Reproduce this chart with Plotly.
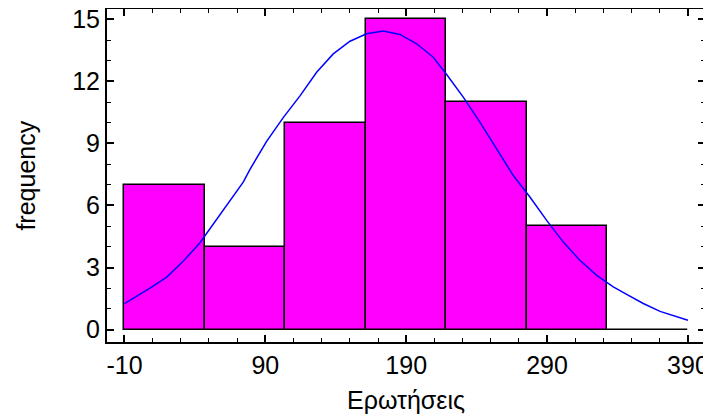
import plotly.graph_objects as go

# Histogram data
bin_start = -10
bin_width = 400 / 7
counts = [7, 4, 10, 15, 11, 5, 0]

# Fitted normal curve
curve_x = [-10, 8.1, 20.0, 31.7, 43.6, 48.3, 55.4, 62.5, 74.3, 79.1, 90.9, 102.7,
           114.6, 126.4, 138.2, 150.1, 161.9, 173.7, 185.6, 197.4, 209.2, 218.7,
           230.5, 242.3, 254.2, 266.0, 277.8, 289.7, 301.5, 313.3, 325.2, 337.0,
           346.5, 358.3, 370.2, 382.0, 390.0]
curve_y = [1.26, 2.0, 2.54, 3.3, 4.2, 4.64, 5.3, 6.0, 7.13, 7.75, 9.1, 10.25,
           11.3, 12.44, 13.33, 13.94, 14.30, 14.43, 14.27, 13.82, 13.17, 12.33,
           11.24, 10.03, 8.74, 7.45, 6.41, 5.28, 4.23, 3.35, 2.62, 2.06,
           1.70, 1.26, 0.88, 0.61, 0.45]

x_tickvals = [-10, 90, 190, 290, 390]
y_tickvals = [0, 3, 6, 9, 12, 15]
x_title = "Ερωτήσεις"
y_title = "frequency"

centers = [bin_start + bin_width * (i + 0.5) for i in range(len(counts))]

fig = go.Figure()
fig.add_trace(go.Bar(
    x=centers, y=counts, width=[bin_width] * len(counts),
    marker=dict(color="#FF00FF", line=dict(color="black", width=1.5)),
    hoverinfo="skip",
))
fig.add_trace(go.Scatter(
    x=curve_x, y=curve_y, mode="lines",
    line=dict(color="#0000FF", width=1.5),
))

# The page body has an 8px default margin; the figure is sized to fit inside it.
font = "Liberation Sans, Arial, sans-serif"
fig.update_layout(
    width=703, height=411,
    margin=dict(l=99, r=6, t=1, b=77),
    paper_bgcolor="white", plot_bgcolor="white",
    showlegend=False, bargap=0,
    font=dict(family=font, size=25, color="black"),
    annotations=[
        dict(text=x_title, xref="paper", yref="paper", x=0.5, y=-0.174,
             xanchor="center", yanchor="middle", showarrow=False,
             font=dict(size=25)),
        dict(text=y_title, xref="paper", yref="paper", x=-0.137, y=0.5,
             xanchor="center", yanchor="middle", showarrow=False, textangle=-90,
             font=dict(size=25)),
    ],
)
fig.update_xaxes(
    range=[-22.4, 402.1], tickvals=x_tickvals, ticktext=[str(v) for v in x_tickvals],
    ticks="inside", ticklen=7, tickwidth=1.5, tickcolor="black",
    minor=dict(dtick=20, tick0=-10, ticks="inside", ticklen=4, tickwidth=1.2, tickcolor="black"),
    showline=True, linecolor="black", linewidth=2, mirror="allticks",
    showgrid=False, zeroline=False, automargin=False,
    ticklabeloverflow="allow",
    tickfont=dict(size=25),
)
fig.update_yaxes(
    range=[-0.6, 15.5], tickvals=y_tickvals,
    ticks="inside", ticklen=7, tickwidth=1.5, tickcolor="black",
    minor=dict(dtick=1, tick0=0, ticks="inside", ticklen=4, tickwidth=1.2, tickcolor="black"),
    showline=True, linecolor="black", linewidth=2, mirror="allticks",
    showgrid=False, zeroline=False, automargin=False,
    ticklabeloverflow="allow",
    tickfont=dict(size=25),
)

fig.write_html("out.html")
